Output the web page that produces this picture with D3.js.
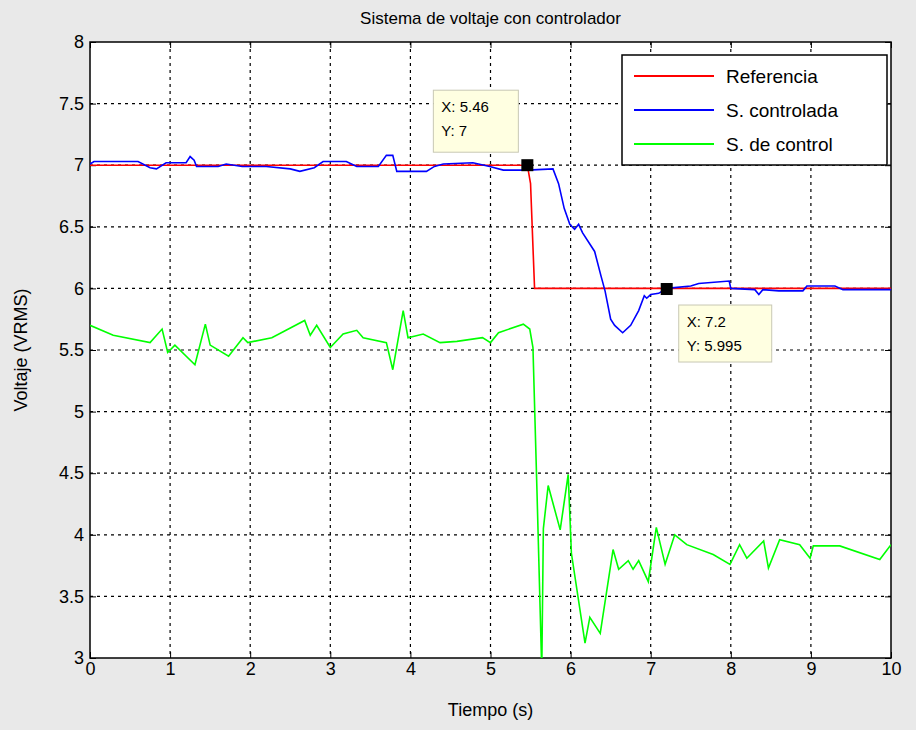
<!DOCTYPE html>
<html><head><meta charset="utf-8">
<style>
body{margin:0;background:#e9e9e9;font-family:"Liberation Sans",Arial,sans-serif}
</style>
<script src="https://cdn.jsdelivr.net/npm/d3@7"></script>
</head><body><svg id="c" width="916" height="730"></svg>
<script>
// data
const referencia = [[0,7],[5.46,7],[5.5,6.85],[5.55,6],[10,6]]
const controlada = [[0,7.01],[0.05,7.03],[0.6,7.03],[0.75,6.98],[0.83,6.97],[0.95,7.02],[1.2,7.02],[1.25,7.07],[1.3,7.04],[1.33,6.99],[1.6,6.99],[1.7,7.01],[1.9,6.99],[2.2,6.99],[2.5,6.97],[2.62,6.95],[2.8,6.98],[2.91,7.03],[3.2,7.03],[3.33,6.99],[3.6,6.99],[3.7,7.08],[3.78,7.08],[3.83,6.95],[4.2,6.95],[4.3,6.99],[4.41,7.01],[4.78,7.02],[4.99,6.99],[5.16,6.96],[5.46,6.96],[5.78,6.97],[5.85,6.85],[5.92,6.65],[5.99,6.52],[6.05,6.48],[6.1,6.52],[6.15,6.45],[6.3,6.3],[6.38,6.1],[6.43,5.98],[6.5,5.75],[6.55,5.7],[6.65,5.64],[6.75,5.7],[6.85,5.82],[6.92,5.94],[6.95,5.92],[7.0,5.95],[7.1,5.96],[7.2,6.0],[7.5,6.02],[7.6,6.04],[7.98,6.06],[8.0,6.0],[8.3,5.99],[8.35,5.95],[8.4,5.99],[8.6,5.98],[8.9,5.98],[8.95,6.02],[9.3,6.02],[9.4,5.99],[10,5.99]]
const control = [[0,5.7],[0.29,5.62],[0.75,5.56],[0.9,5.67],[0.97,5.48],[1.06,5.54],[1.31,5.38],[1.44,5.71],[1.5,5.54],[1.73,5.45],[1.91,5.6],[1.97,5.56],[2.27,5.6],[2.68,5.74],[2.75,5.62],[2.83,5.7],[3.0,5.52],[3.16,5.63],[3.33,5.66],[3.41,5.6],[3.7,5.56],[3.78,5.34],[3.91,5.82],[3.97,5.6],[4.16,5.63],[4.37,5.56],[4.58,5.57],[4.9,5.6],[5.0,5.56],[5.1,5.64],[5.41,5.71],[5.49,5.67],[5.53,5.52],[5.58,4.36],[5.64,2.9],[5.66,4.05],[5.72,4.4],[5.87,4.04],[5.97,4.49],[6.01,3.85],[6.18,3.12],[6.24,3.33],[6.37,3.2],[6.53,3.88],[6.6,3.72],[6.72,3.79],[6.78,3.72],[6.85,3.79],[6.97,3.62],[7.07,4.06],[7.18,3.76],[7.3,4.0],[7.45,3.92],[7.78,3.84],[7.99,3.76],[8.11,3.92],[8.2,3.81],[8.41,3.95],[8.47,3.73],[8.61,3.96],[8.86,3.92],[8.99,3.81],[9.03,3.91],[9.36,3.91],[9.86,3.8],[10,3.92]]
const seriesNames = ['Referencia','S. controlada','S. de control']
const seriesColors = ['#ff0000','#0000ff','#00ff00']
const tips = [[5.46,7],[7.2,5.995]]

const svg = d3.select('#c')
const L = 90, R = 891, T = 42, B = 658
const x = d3.scaleLinear().domain([0,10]).range([L,R])
const y = d3.scaleLinear().domain([3,8]).range([B,T])

svg.append('rect').attr('x',L).attr('y',T).attr('width',R-L).attr('height',B-T).attr('fill','#fff')
svg.append('defs').append('clipPath').attr('id','clip').append('rect')
  .attr('x',L).attr('y',T).attr('width',R-L).attr('height',B-T)

// grid
const g = svg.append('g').attr('stroke','#000').attr('stroke-dasharray','3,4').attr('stroke-width',1.2)
x.ticks(10).slice(1,-1).forEach(t => g.append('line').attr('x1',x(t)).attr('x2',x(t)).attr('y1',T).attr('y2',B))
y.ticks(10).slice(1,-1).forEach(t => g.append('line').attr('y1',y(t)).attr('y2',y(t)).attr('x1',L).attr('x2',R))

// axes
const fmt = d => String(d)
svg.append('g').attr('transform',`translate(0,${B})`)
  .call(d3.axisBottom(x).ticks(10).tickFormat(fmt).tickSizeInner(-6).tickSizeOuter(0).tickPadding(4))
svg.append('g').attr('transform',`translate(0,${T})`)
  .call(d3.axisTop(x).ticks(10).tickFormat('').tickSizeInner(-6).tickSizeOuter(0))
svg.append('g').attr('transform',`translate(${L},0)`)
  .call(d3.axisLeft(y).ticks(10).tickFormat(fmt).tickSizeInner(-6).tickSizeOuter(0).tickPadding(6))
svg.append('g').attr('transform',`translate(${R},0)`)
  .call(d3.axisRight(y).ticks(10).tickFormat('').tickSizeInner(-6).tickSizeOuter(0))
svg.selectAll('.tick text').attr('font-size',18).attr('font-family','"Liberation Sans",Arial,sans-serif').attr('fill','#000')
svg.selectAll('.domain').remove()
svg.append('rect').attr('x',L).attr('y',T).attr('width',R-L).attr('height',B-T).attr('fill','none').attr('stroke','#000').attr('stroke-width',1.5)

// lines
const line = d3.line().x(d => x(d[0])).y(d => y(d[1]))
const lg = svg.append('g').attr('clip-path','url(#clip)')
;[referencia, controlada, control].forEach((s,i) =>
  lg.append('path').attr('d',line(s)).attr('fill','none').attr('stroke',seriesColors[i]).attr('stroke-width',1.6))

// data tips
const tipBoxes = [{dx:-94,dy:-75,w:85,h:62},{dx:12,dy:16,w:93,h:57}]
tips.forEach((p,i) => {
  const px = x(p[0]), py = y(p[1]), b = tipBoxes[i]
  svg.append('rect').attr('x',px+b.dx).attr('y',py+b.dy).attr('width',b.w).attr('height',b.h)
    .attr('fill','#ffffe1').attr('stroke','#c8c8b4')
  svg.append('text').attr('x',px+b.dx+8).attr('y',py+b.dy+22).attr('font-size',15).text('X: '+p[0])
  svg.append('text').attr('x',px+b.dx+8).attr('y',py+b.dy+46).attr('font-size',15).text('Y: '+p[1])
  svg.append('rect').attr('x',px-6).attr('y',py-6).attr('width',12).attr('height',12).attr('fill','#000')
})

// legend
const lx = 622, ly = 55
svg.append('rect').attr('x',lx).attr('y',ly).attr('width',265).attr('height',110).attr('fill','#fff').attr('stroke','#000').attr('stroke-width',1.5)
seriesNames.forEach((n,i) => {
  const yy = ly + 21 + i*34
  svg.append('line').attr('x1',lx+12).attr('x2',lx+92).attr('y1',yy).attr('y2',yy).attr('stroke',seriesColors[i]).attr('stroke-width',2)
  svg.append('text').attr('x',lx+104).attr('y',yy+7).attr('font-size',19).text(n)
})

svg.append('text').attr('x',(L+R)/2).attr('y',24).attr('text-anchor','middle').attr('font-size',17).text('Sistema de voltaje con controlador')
svg.append('text').attr('x',(L+R)/2).attr('y',716).attr('text-anchor','middle').attr('font-size',18).text('Tiempo (s)')
svg.append('text').attr('transform',`translate(27,${(T+B)/2}) rotate(-90)`).attr('text-anchor','middle').attr('font-size',18).text('Voltaje (VRMS)')
</script></body></html>
